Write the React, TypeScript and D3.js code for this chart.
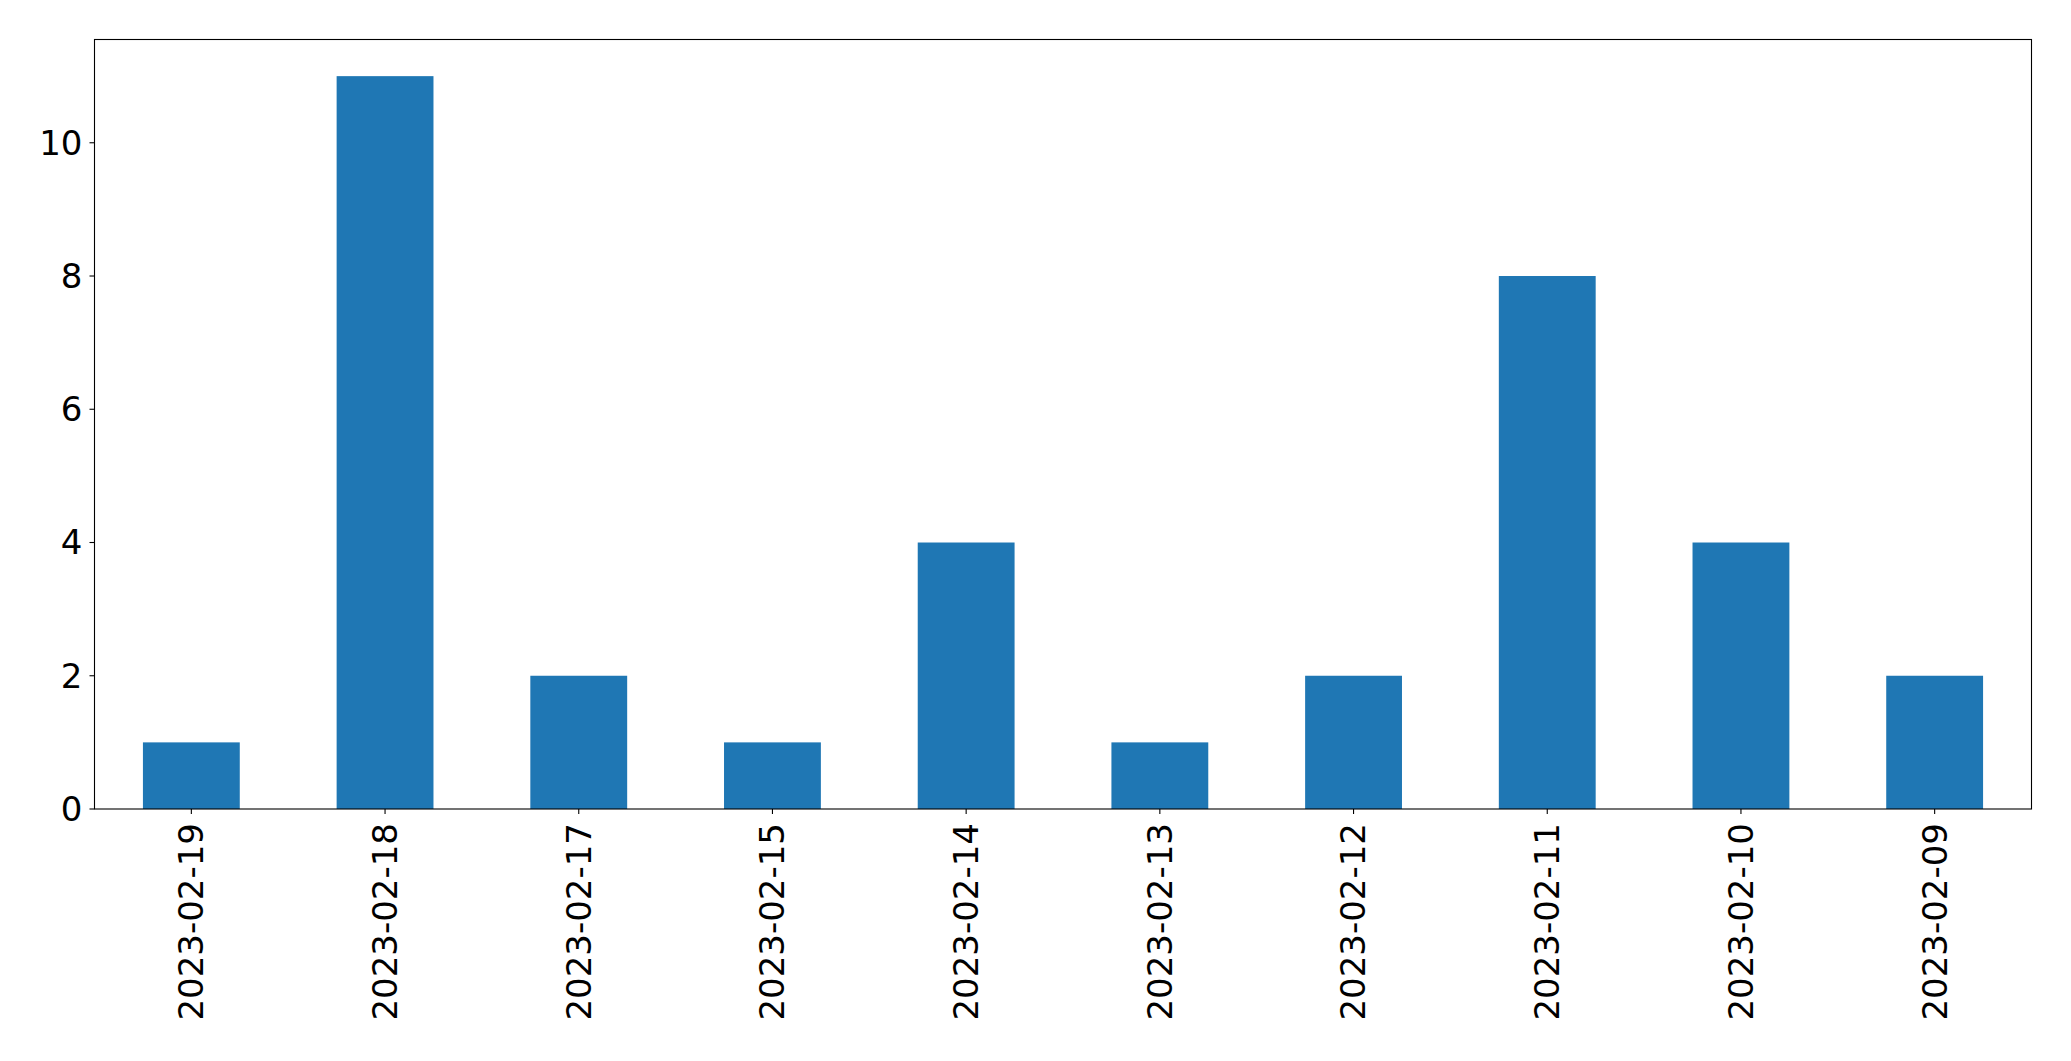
import React from 'react';
import * as d3 from 'd3';

const dates = [
    "2023-02-19", "2023-02-18", "2023-02-17", "2023-02-15", "2023-02-14",
    "2023-02-13", "2023-02-12", "2023-02-11", "2023-02-10", "2023-02-09"
];
const counts = [1, 11, 2, 1, 4, 1, 2, 8, 4, 2];
const yTicks = [0, 2, 4, 6, 8, 10];

const App: React.FC = () => {
    const width = 2071;
    const height = 1061;
    const margin = { top: 39.5, right: 39.5, bottom: 252, left: 94.5 };
    const innerWidth = width - margin.left - margin.right;
    const innerHeight = height - margin.top - margin.bottom;

    // matplotlib-style: categories at integer positions, xlim [-0.5, n-0.5]
    const xScale = d3.scaleLinear()
        .domain([-0.5, dates.length - 0.5])
        .range([0, innerWidth]);

    const yMax = d3.max(counts) || 1;
    const yScale = d3.scaleLinear()
        .domain([0, yMax * 1.05])
        .range([innerHeight, 0]);

    const barWidth = xScale(0.5) - xScale(0);
    const fontSize = 34;

    return (
        <div style={{ position: 'absolute', left: 0, top: 0, background: '#fff' }}>
            <svg width={width} height={height} style={{ display: 'block' }} fontFamily="'DejaVu Sans', sans-serif">
                <rect width={width} height={height} fill="#fff" />
                <g transform={`translate(${margin.left}, ${margin.top})`}>
                    {counts.map((v, i) => (
                        <rect
                            key={dates[i]}
                            x={xScale(i) - barWidth / 2}
                            y={yScale(v)}
                            width={barWidth}
                            height={innerHeight - yScale(v)}
                            fill="#1f77b4"
                        />
                    ))}

                    <rect x={0} y={0} width={innerWidth} height={innerHeight} fill="none" stroke="#000" strokeWidth={1.1} />

                    {yTicks.map(t => (
                        <g key={t} transform={`translate(0, ${yScale(t)})`}>
                            <line x1={-5} x2={0} stroke="#000" strokeWidth={1.1} />
                            <text x={-12} textAnchor="end" dy="0.35em" fontSize={fontSize} fill="#000">{t}</text>
                        </g>
                    ))}

                    {dates.map((d, i) => (
                        <g key={d} transform={`translate(${xScale(i)}, ${innerHeight})`}>
                            <line y1={0} y2={5} stroke="#000" strokeWidth={1.1} />
                            <text
                                transform="translate(0, 14) rotate(-90)"
                                textAnchor="end"
                                dy="0.35em"
                                fontSize={fontSize}
                                fill="#000"
                            >
                                {d}
                            </text>
                        </g>
                    ))}
                </g>
            </svg>
        </div>
    );
};

export default App;
